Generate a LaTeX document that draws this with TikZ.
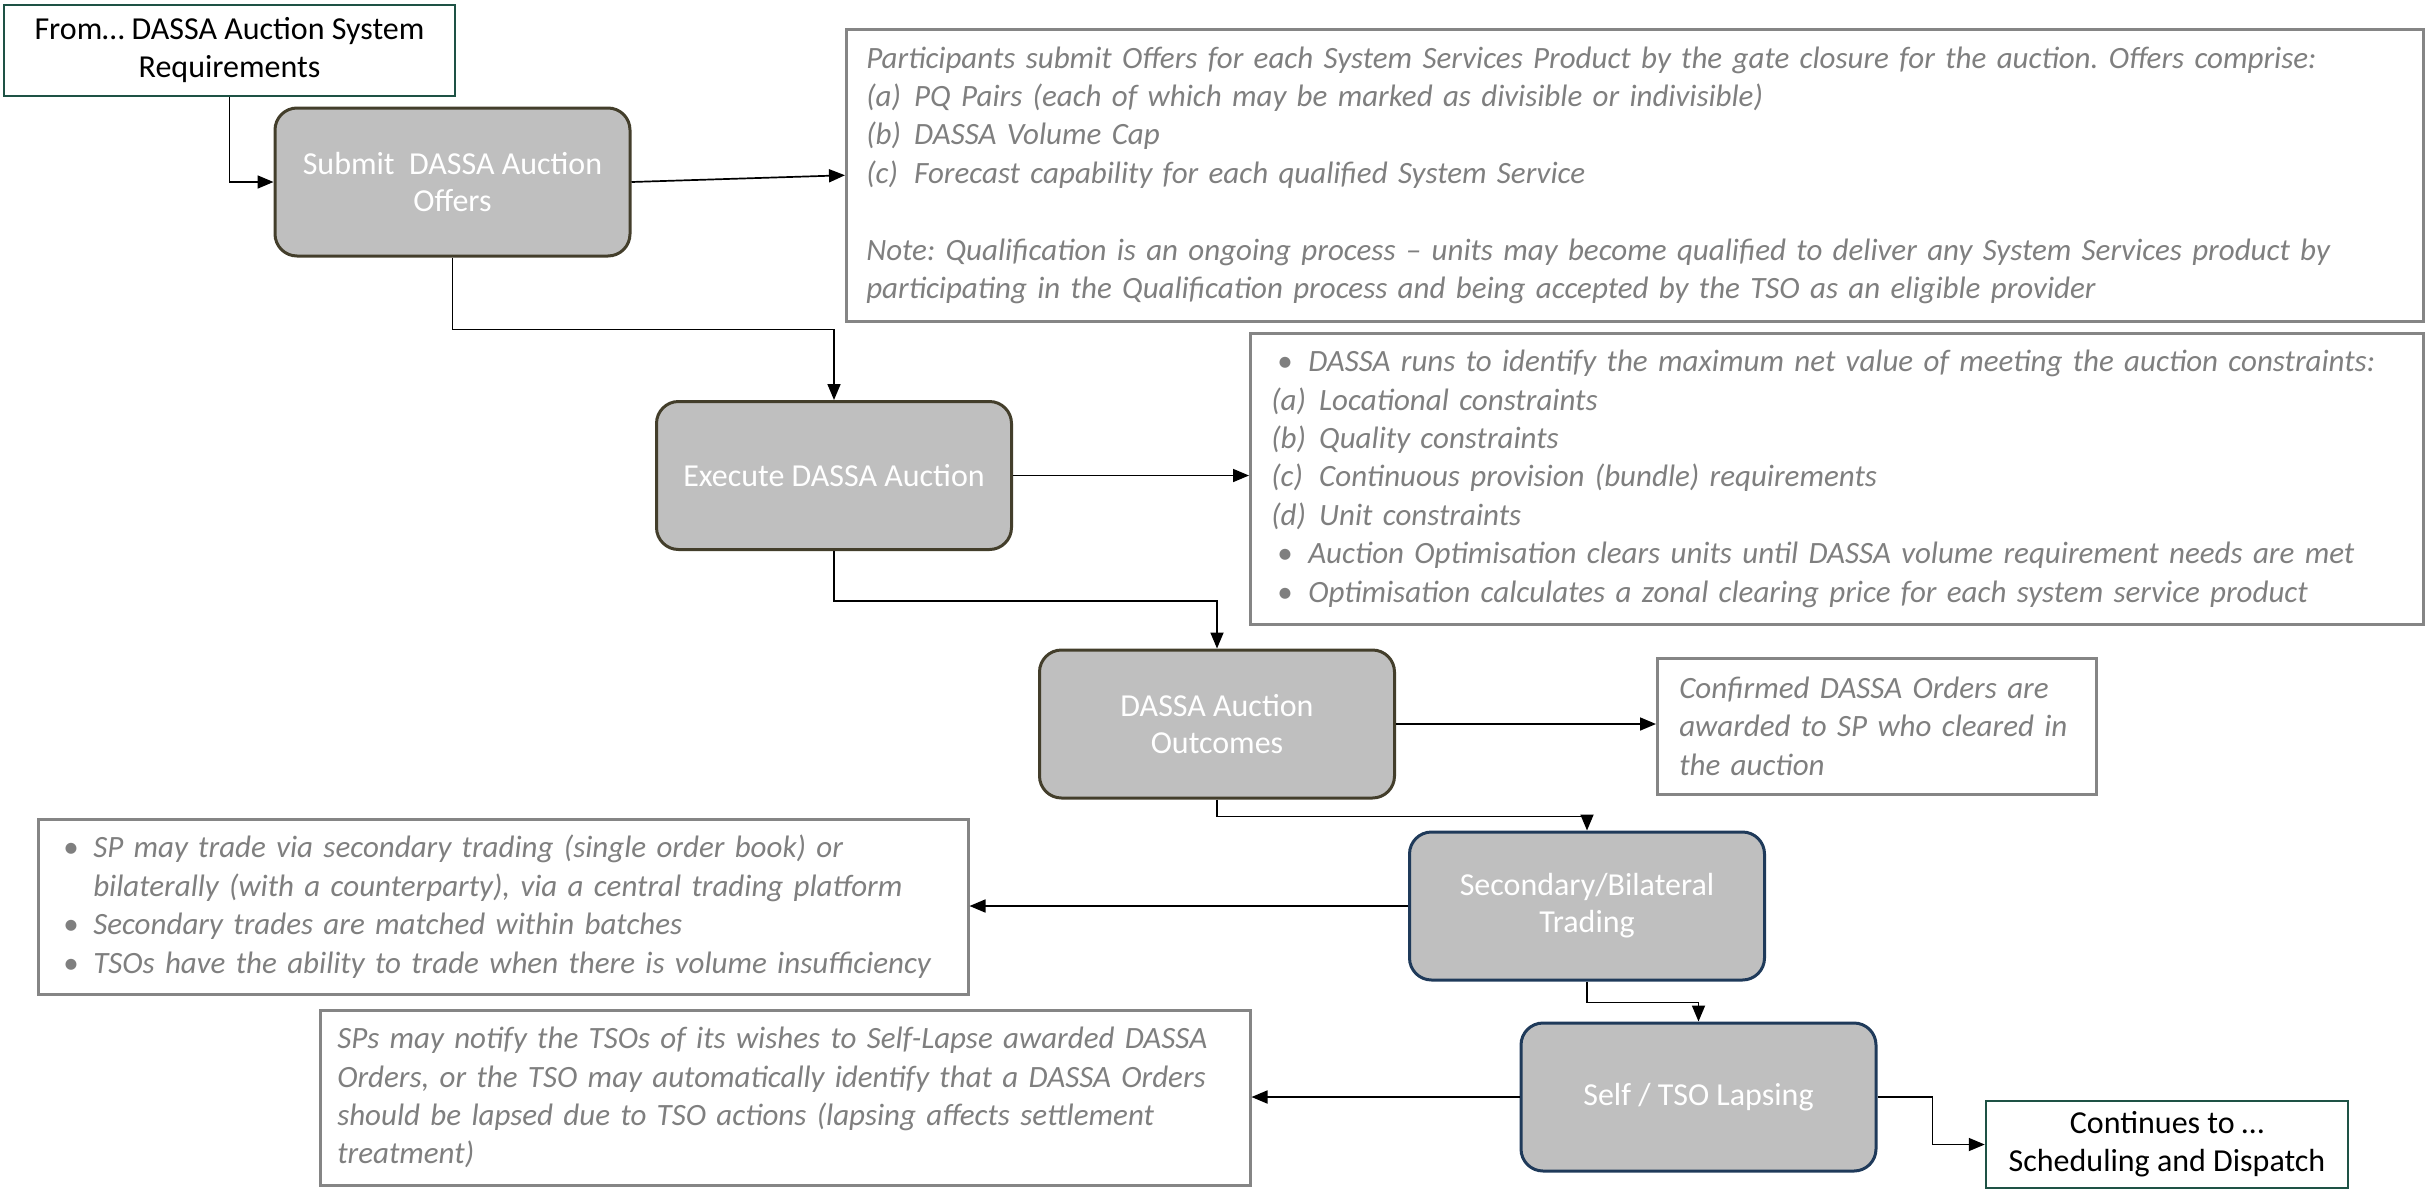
\documentclass[tikz,border=0pt]{standalone}
\usepackage{fontspec}
\setmainfont{Carlito}
\usetikzlibrary{arrows.meta}
\definecolor{cFill}{HTML}{BFBFBF}
\definecolor{cOlive}{HTML}{433E2B}
\definecolor{cBlue}{HTML}{1F3A5A}
\definecolor{cGreen}{HTML}{1E5245}
\definecolor{cLine}{HTML}{858585}
\definecolor{cText}{HTML}{7F7F7F}
\frenchspacing
\begin{document}
\begin{tikzpicture}[x=1pt,y=-1pt,
  proc/.style={draw=cOlive, line width=3pt, fill=cFill, rounded corners=22pt,
    minimum width=355pt, minimum height=148pt, align=center, text=white,
    font=\fontsize{32}{37}\selectfont, inner sep=0pt},
  procb/.style={proc, draw=cBlue},
  note/.style={draw=cLine, line width=2.5pt, text=cText,
    font=\fontsize{31}{38.4}\selectfont\itshape, align=left, inner ysep=0pt, anchor=north west},
  term/.style={draw=cGreen, line width=2.5pt, align=center,
    font=\fontsize{32}{38}\selectfont, inner sep=0pt},
  arr/.style={-{Triangle[length=16pt,width=13pt]}, line width=1.7pt}]
\useasboundingbox (0,0) rectangle (2433,1189);

% process boxes
\node[term, minimum width=451pt, minimum height=91pt] (from) at (229.5,50.5) {From… DASSA Auction System\\Requirements};
\node[proc] (submit) at (452.5,182) {Submit\ \ DASSA Auction\\Offers};
\node[proc] (execute) at (834,475.5) {Execute DASSA Auction};
\node[proc] (outcomes) at (1217,724) {DASSA Auction\\Outcomes};
\node[procb] (secondary) at (1587,906) {Secondary/Bilateral\\Trading};
\node[procb] (lapsing) at (1698.5,1097) {Self / TSO Lapsing};
\node[term, minimum width=362pt, minimum height=87pt] (cont) at (2167,1144.5) {Continues to …\\Scheduling and Dispatch};

% notes
\node[note, inner xsep=20pt, text width=1537pt, minimum height=292pt] (n1) at (845,28)
 {Participants submit Offers for each System Services Product by the gate closure for the auction. Offers comprise:\\
  \makebox[48pt][l]{(a)}PQ Pairs (each of which may be marked as divisible or indivisible)\\
  \makebox[48pt][l]{(b)}DASSA Volume Cap\\
  \makebox[48pt][l]{(c)}Forecast capability for each qualified System Service\\[38.4pt]
  Note: Qualification is an ongoing process – units may become qualified to deliver any System Services product by\\
  participating in the Qualification process and being accepted by the TSO as an eligible provider};

\node[note, inner xsep=21pt, text width=1131pt, minimum height=291pt] (n2) at (1249,332)
 {\hspace*{6pt}\makebox[31pt][l]{\upshape •}DASSA runs to identify the maximum net value of meeting the auction constraints:\\
  \makebox[48pt][l]{(a)}Locational constraints\\
  \makebox[48pt][l]{(b)}Quality constraints\\
  \makebox[48pt][l]{(c)}Continuous provision (bundle) requirements\\
  \makebox[48pt][l]{(d)}Unit constraints\\
  \hspace*{6pt}\makebox[31pt][l]{\upshape •}Auction Optimisation clears units until DASSA volume requirement needs are met\\
  \hspace*{6pt}\makebox[31pt][l]{\upshape •}Optimisation calculates a zonal clearing price for each system service product};

\node[note, inner xsep=22pt, text width=395pt, minimum height=136pt] (n3) at (1656,657)
 {Confirmed DASSA Orders are\\awarded to SP who cleared in\\the auction};

\node[note, inner xsep=25pt, text width=880pt, minimum height=175pt] (n4) at (37,818)
 {\makebox[30pt][l]{\upshape •}SP may trade via secondary trading (single order book) or\\
  \hspace*{30pt}bilaterally (with a counterparty), via a central trading platform\\
  \makebox[30pt][l]{\upshape •}Secondary trades are matched within batches\\
  \makebox[30pt][l]{\upshape •}TSOs have the ability to trade when there is volume insufficiency};

\node[note, inner xsep=17pt, text width=896pt, minimum height=175pt] (n5) at (319,1009)
 {SPs may notify the TSOs of its wishes to Self-Lapse awarded DASSA\\
  Orders, or the TSO may automatically identify that a DASSA Orders\\
  should be lapsed due to TSO actions (lapsing affects settlement\\
  treatment)};

% connectors
\draw[arr] (from.south) |- (submit.west);
\draw[arr] (submit.east) -- (n1.west);
\draw[arr] (submit.south) -- ++(0,72) -| (execute.north);
\draw[arr] (execute.east) -- (execute.east -| n2.west);
\draw[arr] (execute.south) -- ++(0,50) -| (outcomes.north);
\draw[arr] (outcomes.east) -- (outcomes.east -| n3.west);
\draw[arr] (outcomes.south) -- ++(0,17) -| (secondary.north);
\draw[arr] (secondary.west) -- (secondary.west -| n4.east);
\draw[arr] (secondary.south) -- ++(0,21) -| (lapsing.north);
\draw[arr] (lapsing.west) -- (lapsing.west -| n5.east);
\draw[arr] (lapsing.east) -- ++(55,0) |- (cont.west);
\end{tikzpicture}
\end{document}
